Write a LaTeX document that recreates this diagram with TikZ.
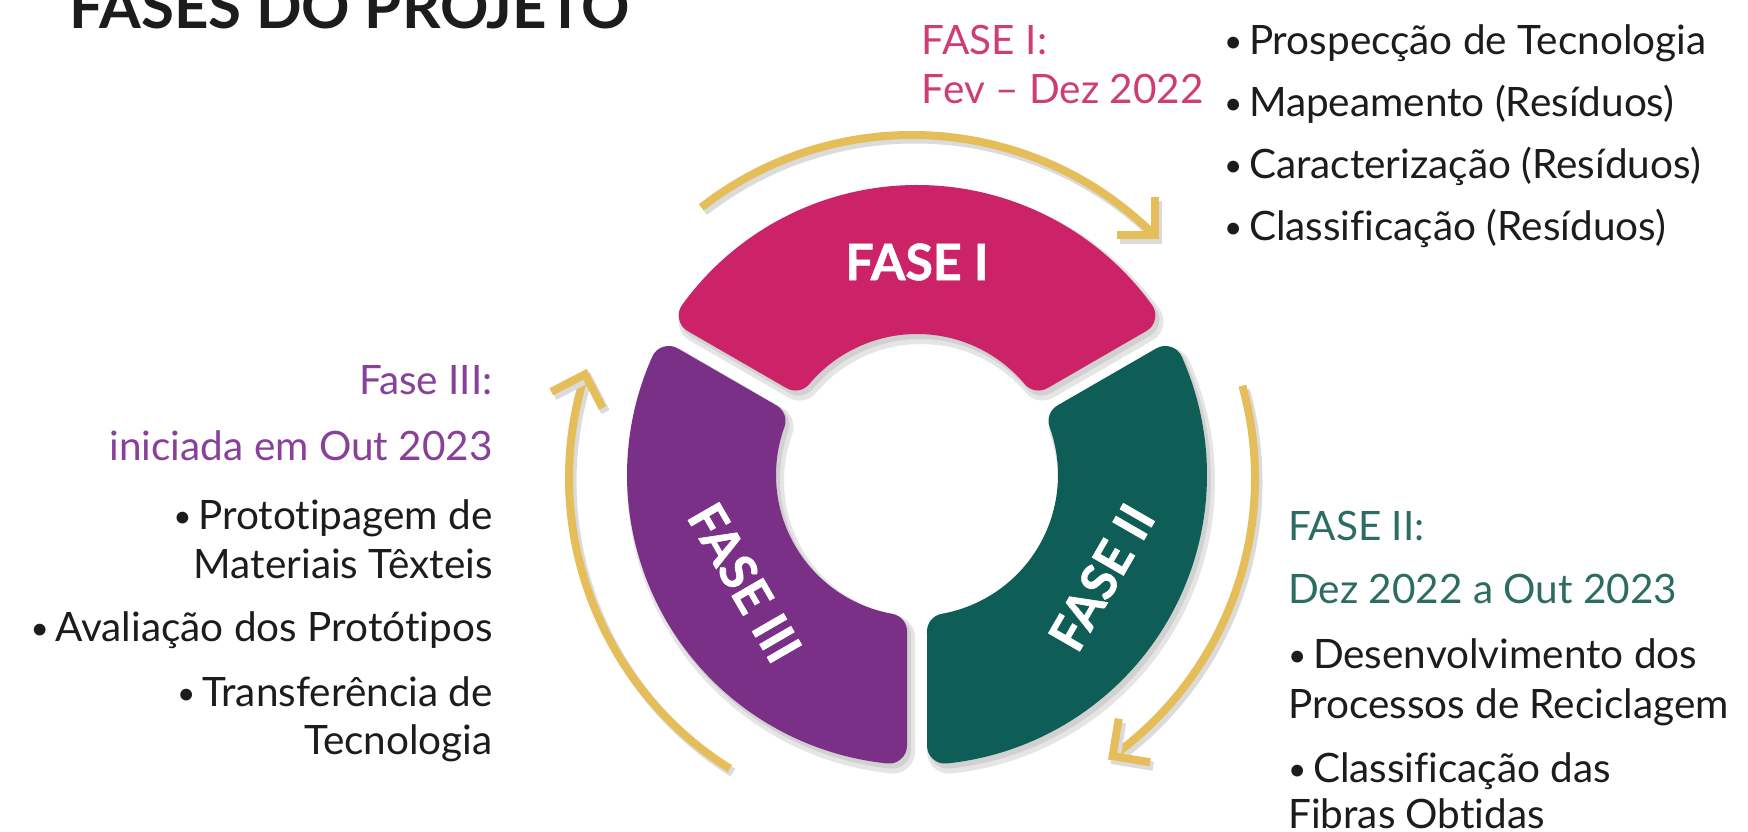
\documentclass[tikz,border=0pt]{standalone}
\usepackage{fontspec}
\usepackage{graphicx}
\setmainfont{Lato}[Ligatures=NoCommon]
\usetikzlibrary{calc}
\definecolor{pinkc}{RGB}{203,34,104}
\definecolor{purplec}{RGB}{123,48,136}
\definecolor{greenc}{RGB}{14,94,87}
\definecolor{goldc}{RGB}{229,190,90}
\definecolor{pinkt}{RGB}{206,62,116}
\definecolor{purplet}{RGB}{137,64,153}
\definecolor{greent}{RGB}{45,108,98}
\definecolor{txtblack}{RGB}{28,28,28}
\newcommand{\mybul}{\raisebox{0.07em}{\scalebox{0.78}{•}}\hspace{0.16em}}
\tikzset{
  seg/.style={fill=#1, draw=#1, line width=36pt, line join=round,
    preaction={fill=black!10, draw=black!10, line width=44pt, line join=round, transform canvas={shift={(4pt,-6pt)}}},
    preaction={fill=black!18, draw=black!18, line width=38pt, line join=round, transform canvas={shift={(3pt,-4pt)}}}},
  arrowline/.style={draw=goldc, line width=8pt,
    preaction={draw=black!14, line width=9pt, transform canvas={shift={(3pt,-4pt)}}}},
  headline/.style={arrowline, line join=miter},
  seglabel/.style={text=white, font=\fontsize{50}{50}\selectfont\bfseries\addfontfeatures{FakeBold=1.2}, inner sep=0pt},
  body/.style={inner sep=0pt, font=\fontsize{40.5}{46}\selectfont, text=txtblack},
  bodyl/.style={body, anchor=base west},
  bodyr/.style={body, anchor=base east},
}
\begin{document}
\begin{tikzpicture}[x=1pt,y=1pt]
\useasboundingbox (0,0) rectangle (1748,832);
\fill[white] (0,0) rectangle (1748,832);
\coordinate (C) at (917,357);
\coordinate (AC) at (912,354);

% ring segments
\path[seg=pinkc] ($(C)+(35.91:272)$) arc[start angle=35.91, end angle=144.09, radius=272]
  -- ($(C)+(139.86:159)$) arc[start angle=139.86, end angle=40.14, radius=159] -- cycle;
\path[seg=greenc] ($(C)+(-84.09:272)$) arc[start angle=-84.09, end angle=24.09, radius=272]
  -- ($(C)+(19.86:159)$) arc[start angle=19.86, end angle=-79.86, radius=159] -- cycle;
\path[seg=purplec] ($(C)+(155.91:272)$) arc[start angle=155.91, end angle=264.09, radius=272]
  -- ($(C)+(259.86:159)$) arc[start angle=259.86, end angle=160.14, radius=159] -- cycle;

% segment labels
\node[seglabel] (l1) at ($(C)+(90:213)$) {FASE I};
\node[seglabel, rotate=60] (l2) at ($(C)+(-29:211)$) {FASE II};
\node[seglabel, rotate=-60] (l3) at ($(C)+(212:203)$) {FASE III};

% arrows
\draw[arrowline] ($(AC)+(127.9:343)$) arc[start angle=127.9, end angle=45, radius=343] coordinate (tA);
\draw[headline] (tA) ++(90:38) -- (tA) -- ++(180:38);
\draw[arrowline] ($(AC)+(15.6:343)$) arc[start angle=15.6, end angle=-54.2, radius=343] coordinate (tB);
\draw[headline] (tB) ++(-9.2:38) -- (tB) -- ++(80.8:38);
\draw[arrowline] ($(AC)+(237.9:343)$) arc[start angle=237.9, end angle=162.4, radius=343] coordinate (tC);
\draw[headline] (tC) ++(207.4:38) -- (tC) -- ++(297.4:38);

% title
\node[inner sep=0pt, anchor=base west, text=txtblack, font=\fontsize{60}{60}\selectfont\bfseries] (title) at (69,803) {FASES DO PROJETO};

% phase I texts
\node[bodyl, text=pinkt] (f1a) at (921.7,777) {FASE I:};
\node[bodyl, text=pinkt] (f1b) at (921.7,728) {Fev – Dez 2022};
\node[bodyl] (b1) at (1224,777) {\mybul Prospecção de Tecnologia};
\node[bodyl] (b2) at (1224,715) {\mybul Mapeamento (Resíduos)};
\node[bodyl] (b3) at (1224,653) {\mybul Caracterização (Resíduos)};
\node[bodyl] (b4) at (1224,591) {\mybul Classificação (Resíduos)};

% phase II texts
\node[bodyl, text=greent] (f2a) at (1288,291) {FASE II:};
\node[bodyl, text=greent] (f2b) at (1288,228) {Dez 2022 a Out 2023};
\node[bodyl] (c1) at (1288,163) {\mybul Desenvolvimento dos};
\node[bodyl] (c2) at (1288,113) {Processos de Reciclagem};
\node[bodyl] (c3) at (1288,49) {\mybul Classificação das};
\node[bodyl] (c4) at (1288,3) {Fibras Obtidas};

% phase III texts
\node[bodyr, text=purplet] (f3a) at (492.8,437) {Fase III:};
\node[bodyr, text=purplet] (f3b) at (492.8,371) {iniciada em Out 2023};
\node[bodyr] (d1) at (492.8,302) {\mybul Prototipagem de};
\node[bodyr] (d2) at (492.8,253) {Materiais Têxteis};
\node[bodyr] (d3) at (492.8,190) {\mybul Avaliação dos Protótipos};
\node[bodyr] (d4) at (492.8,125) {\mybul Transferência de};
\node[bodyr] (d5) at (492.8,77) {Tecnologia};
\end{tikzpicture}
\end{document}
